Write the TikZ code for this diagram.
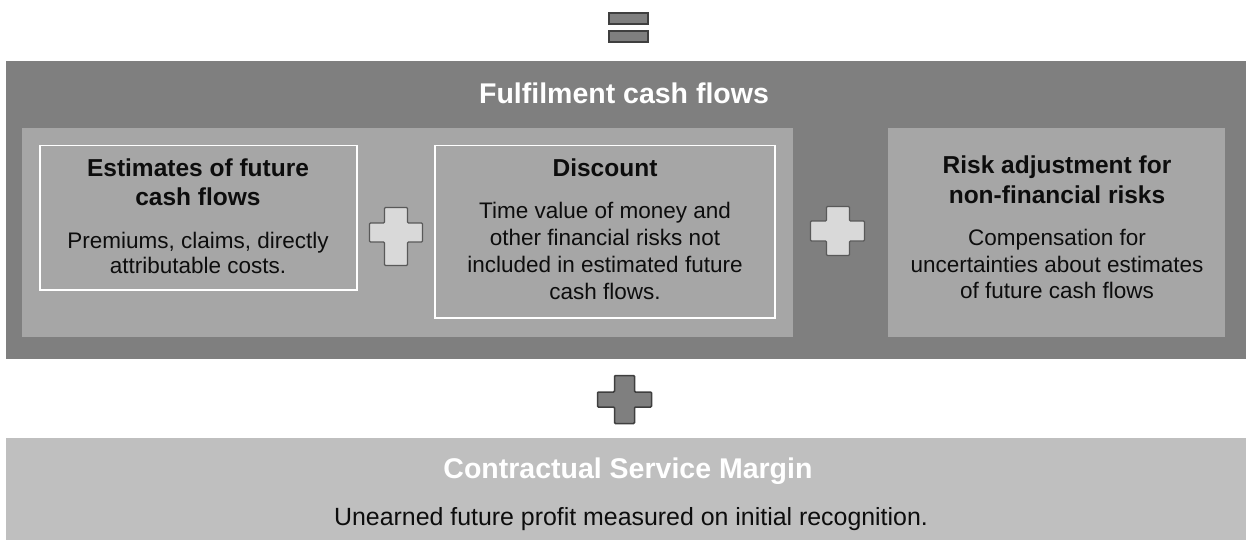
\documentclass[tikz,border=0pt]{standalone}
\usepackage{fontspec}
\setmainfont{Liberation Sans}
\definecolor{darkpanel}{HTML}{7F7F7F}
\definecolor{midpanel}{HTML}{A6A6A6}
\definecolor{lightpanel}{HTML}{BFBFBF}
\definecolor{plusfill}{HTML}{D9D9D9}
\definecolor{plusedge}{HTML}{595959}
\definecolor{darkedge}{HTML}{3F3F3F}
\definecolor{ink}{HTML}{0D0D0D}
\begin{document}
\begin{tikzpicture}[x=1pt,y=-1pt,
  panel/.style={rectangle,inner sep=0pt,anchor=north west,draw=none},
  framed/.style={panel,draw=white,line width=1.5pt},
  bigtitle/.style={font=\fontsize{28.5}{32}\selectfont\bfseries,text=white,anchor=base,inner sep=0pt},
  heading/.style={font=\fontsize{24.5}{28}\selectfont\bfseries,text=ink,anchor=base,inner sep=0pt},
  body/.style={font=\fontsize{22.5}{26}\selectfont,text=ink,anchor=base,inner sep=0pt},
  widebody/.style={body,font=\fontsize{24.9}{28}\selectfont},
  lightplus/.style={fill=plusfill,draw=plusedge,line width=1.3pt,rounded corners=1pt},
  darkplus/.style={fill=darkpanel,draw=darkedge,line width=1.5pt,rounded corners=1pt},
  eqbar/.style={fill=darkpanel,draw=darkedge,line width=1.8pt}]
\useasboundingbox (0,0) rectangle (1246,540);
\fill[white] (0,0) rectangle (1246,540);

% equals sign
\draw[eqbar] (609,13) rectangle (648,24);
\draw[eqbar] (609,31) rectangle (648,42);

% fulfilment cash flows panel
\node[panel,fill=darkpanel,minimum width=1240pt,minimum height=298pt] (fcf) at (6,61) {};
\node[bigtitle] (fcftitle) at (624,104) {Fulfilment cash flows};

\node[panel,fill=midpanel,minimum width=771pt,minimum height=209pt] (pv) at (22,128) {};
\node[panel,fill=midpanel,minimum width=337pt,minimum height=209pt] (ra) at (888,128) {};

\node[framed,minimum width=317pt,minimum height=144pt] (est) at (39,145) {};
\node[framed,minimum width=340pt,minimum height=172pt] (disc) at (434,145) {};

% estimates of future cash flows
\node[heading] (esth1) at (198,177) {Estimates of future};
\node[heading] (esth2) at (198,205) {cash flows};
\node[body] (estb1) at (198,248) {Premiums, claims, directly};
\node[body] (estb2) at (198,273) {attributable costs.};

% discount
\node[heading] (disch) at (605,177) {Discount};
\node[body] (discb1) at (605,218) {Time value of money and};
\node[body] (discb2) at (605,245) {other financial risks not};
\node[body] (discb3) at (605,272) {included in estimated future};
\node[body] (discb4) at (605,299) {cash flows.};

% risk adjustment
\node[heading] (rah1) at (1057,173) {Risk adjustment for};
\node[heading] (rah2) at (1057,203) {non-financial risks};
\node[body] (rab1) at (1057,245) {Compensation for};
\node[body] (rab2) at (1057,272) {uncertainties about estimates};
\node[body] (rab3) at (1057,298) {of future cash flows};

% plus signs
\draw[lightplus] (384.5,207.5) -- (407.5,207.5) -- (407.5,223) -- (422.5,223) -- (422.5,242)
  -- (407.5,242) -- (407.5,265.5) -- (384.5,265.5) -- (384.5,242) -- (369.5,242)
  -- (369.5,223) -- (384.5,223) -- cycle;
\draw[lightplus] (826.5,206.5) -- (849.5,206.5) -- (849.5,221) -- (864.5,221) -- (864.5,241)
  -- (849.5,241) -- (849.5,255.5) -- (826.5,255.5) -- (826.5,241) -- (810.5,241)
  -- (810.5,221) -- (826.5,221) -- cycle;
\draw[darkplus] (614.5,375.5) -- (634.5,375.5) -- (634.5,392) -- (651.5,392) -- (651.5,407)
  -- (634.5,407) -- (634.5,423.5) -- (614.5,423.5) -- (614.5,407) -- (597.5,407)
  -- (597.5,392) -- (614.5,392) -- cycle;

% contractual service margin
\node[panel,fill=lightpanel,minimum width=1240pt,minimum height=102pt] (csm) at (6,438) {};
\node[bigtitle] (csmtitle) at (628,478) {Contractual Service Margin};
\node[widebody] (csmbody) at (631,525) {Unearned future profit measured on initial recognition.};
\end{tikzpicture}
\end{document}
